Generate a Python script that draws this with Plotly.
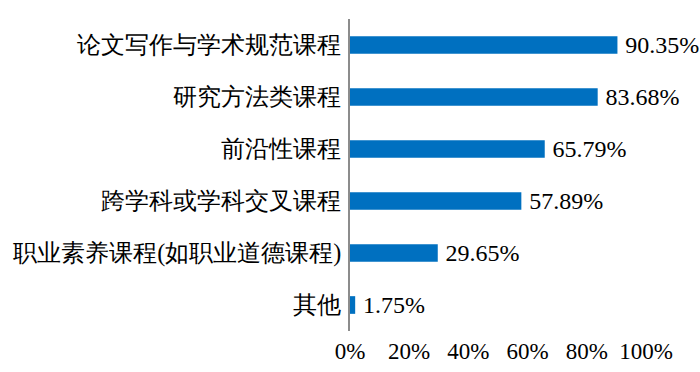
import plotly.graph_objects as go

categories = ["论文写作与学术规范课程", "研究方法类课程", "前沿性课程",
              "跨学科或学科交叉课程", "职业素养课程(如职业道德课程)", "其他"]
values = [90.35, 83.68, 65.79, 57.89, 29.65, 1.75]
tick_vals = [0, 20, 40, 60, 80, 100]
tick_text = ["0%", "20%", "40%", "60%", "80%", "100%"]

FONT = "Times New Roman, Liberation Serif, serif"

fig = go.Figure(go.Bar(
    y=categories, x=values, orientation="h",
    marker=dict(color="#0070C0", line=dict(width=0)),
    width=0.34,
    text=[f"\u2009{v:.2f}%" for v in values],
    textposition="outside",
    constraintext="none",
    textfont=dict(family=FONT, size=24, color="#000000"),
    cliponaxis=False,
))

fig.update_layout(
    width=700, height=372,
    margin=dict(l=350, r=54, t=19, b=41),
    paper_bgcolor="white", plot_bgcolor="white",
    showlegend=False,
    font=dict(family=FONT, color="#000000"),
)
fig.update_xaxes(
    range=[0, 100], tickvals=tick_vals, ticktext=tick_text,
    showgrid=False, zeroline=False, showline=False, automargin=False,
    tickfont=dict(family=FONT, size=23, color="#000000"),
    ticks="", ticklabelstandoff=4,
)
fig.update_yaxes(
    autorange="reversed", automargin=False,
    showgrid=False, zeroline=False,
    showline=True, linecolor="#8c8c8c", linewidth=1.5,
    tickfont=dict(family=FONT, size=24.2, color="#000000"),
    ticks="", ticklabelstandoff=2,
)

fig.write_html("out.html", config={"displayModeBar": False},
               post_script="document.body.style.margin='0';document.body.style.overflow='hidden';")
